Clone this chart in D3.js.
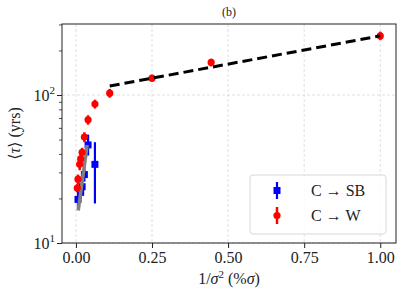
<!DOCTYPE html>
<html><head><meta charset="utf-8">
<script src="https://cdn.jsdelivr.net/npm/d3@7"></script>
<style>
body{margin:0;background:#fff;}
</style></head>
<body><svg id="c" width="407" height="302"></svg>
<script>
// C -> W (red)
const wX  = [1.0, 0.4444, 0.25, 0.1111, 0.0625, 0.04, 0.0278, 0.0204, 0.0156, 0.0123, 0.0069, 0.0044];
const wY  = [251, 166, 130, 103, 87, 68, 52, 41, 37, 34, 27, 23.5];
const wLo = [235, 156, 123, 96, 81, 63, 48, 38, 34, 31, 25, 22];
const wHi = [268, 176, 137, 110, 93, 73, 56, 44, 40, 37, 29, 25];
// C -> SB (blue)
const sX  = [0.0625, 0.04, 0.0278, 0.0204, 0.0156, 0.0069];
const sY  = [34, 46, 29, 24, 22, 19.7];
const sLo = [18.5, 39, 26, 22, 20, 17];
const sHi = [48, 54, 32, 26.5, 24, 22];
// fit lines
const greyFitX = [0.0076, 0.037];
const greyFitY = [16.6, 46];
const dashFitX = [0.1111, 1.0];
const dashFitY = [115, 251];
const xTicks = [0, 0.25, 0.5, 0.75, 1.0];
const xTickLabels = ["0.00", "0.25", "0.50", "0.75", "1.00"];
const yMajor = [10, 100];
const yMinor = [20,30,40,50,60,70,80,90,200,300];

const FONT = "'Times New Roman', 'Liberation Serif', 'Noto Serif', 'DejaVu Serif', Times, serif";
const svg = d3.select("#c").attr("font-family", FONT);
const L = 62, R = 396, T = 24, B = 243;
const x = d3.scaleLinear().domain([-0.0457, 1.0517]).range([L, R]);
const y = d3.scaleLog().domain([10, 302]).range([B, T]);

// grid
const g = svg.append("g");
g.selectAll("line.gx").data(xTicks).join("line")
  .attr("x1", d => x(d)).attr("x2", d => x(d)).attr("y1", T).attr("y2", B)
  .attr("stroke", "#d8d8d8").attr("stroke-width", 0.8).attr("stroke-dasharray", "3,2");
g.selectAll("line.gy").data(yMajor).join("line")
  .attr("x1", L).attr("x2", R).attr("y1", d => y(d)).attr("y2", d => y(d))
  .attr("stroke", "#d8d8d8").attr("stroke-width", 0.8).attr("stroke-dasharray", "3,2");

// axes
const xAxis = d3.axisBottom(x).tickValues(xTicks).tickFormat((d, i) => xTickLabels[i]).tickSize(5).tickPadding(4);
const xa = svg.append("g").attr("transform", `translate(0,${B})`).call(xAxis).attr("font-family", FONT);
xa.select(".domain").remove();
xa.selectAll("text").attr("font-size", 16).attr("font-family", FONT).attr("fill", "#222");
xa.selectAll("line").attr("stroke", "#222").attr("stroke-width", 1);

const yAxis = d3.axisLeft(y).tickValues(yMajor).tickFormat("").tickSize(5);
const ya = svg.append("g").attr("transform", `translate(${L},0)`).call(yAxis);
ya.select(".domain").remove();
ya.selectAll("line").attr("stroke", "#222").attr("stroke-width", 1);
const yAxisMinor = d3.axisLeft(y).tickValues(yMinor).tickFormat("").tickSize(3);
const ym = svg.append("g").attr("transform", `translate(${L},0)`).call(yAxisMinor);
ym.select(".domain").remove();
ym.selectAll("line").attr("stroke", "#222").attr("stroke-width", 0.8);

yMajor.forEach(v => {
  const t = svg.append("text").attr("x", 55).attr("y", y(v) + 6).attr("text-anchor", "end").attr("font-size", 16).attr("font-family", FONT).attr("fill", "#222");
  t.append("tspan").text("10");
  t.append("tspan").attr("dy", -7).attr("font-size", 11).text(Math.round(Math.log10(v)));
});

// frame
svg.append("rect").attr("x", L).attr("y", T).attr("width", R - L).attr("height", B - T)
  .attr("fill", "none").attr("stroke", "#222").attr("stroke-width", 1);

const line = d3.line().x(d => x(d[0])).y(d => y(d[1]));

// blue series
const blue = "#0000ff", red = "#ff0000";
const sData = sX.map((v, i) => ({x: v, y: sY[i], lo: sLo[i], hi: sHi[i]}));
svg.selectAll("line.se").data(sData).join("line")
  .attr("x1", d => x(d.x)).attr("x2", d => x(d.x)).attr("y1", d => y(d.lo)).attr("y2", d => y(d.hi))
  .attr("stroke", blue).attr("stroke-width", 2.2);
svg.selectAll("rect.sm").data(sData).join("rect")
  .attr("x", d => x(d.x) - 3.5).attr("y", d => y(d.y) - 3.5).attr("width", 7).attr("height", 7)
  .attr("fill", blue);

// grey fit
svg.append("path").attr("d", line(greyFitX.map((v, i) => [v, greyFitY[i]])))
  .attr("stroke", "#808080").attr("stroke-width", 3.5).attr("fill", "none");

// red series
const wData = wX.map((v, i) => ({x: v, y: wY[i], lo: wLo[i], hi: wHi[i]}));
svg.selectAll("line.we").data(wData).join("line")
  .attr("x1", d => x(d.x)).attr("x2", d => x(d.x)).attr("y1", d => y(d.lo)).attr("y2", d => y(d.hi))
  .attr("stroke", red).attr("stroke-width", 2.5);
svg.selectAll("circle.wm").data(wData).join("circle")
  .attr("cx", d => x(d.x)).attr("cy", d => y(d.y)).attr("r", 3.6).attr("fill", red);

svg.append("path").attr("d", line(dashFitX.map((v, i) => [v, dashFitY[i]])))
  .attr("stroke", "#000").attr("stroke-width", 3).attr("fill", "none").attr("stroke-dasharray", "10,5");

// title & labels
svg.append("text").attr("x", (L + R) / 2).attr("y", 16).attr("text-anchor", "middle").attr("font-size", 12).attr("fill", "#222").text("(b)");
const xl = svg.append("text").attr("x", (L + R) / 2).attr("y", 284).attr("text-anchor", "middle").attr("font-size", 16).attr("fill", "#222");
xl.append("tspan").text("1/");
xl.append("tspan").attr("font-style", "italic").text("σ");
xl.append("tspan").attr("dy", -6).attr("font-size", 11).text("2");
xl.append("tspan").attr("dy", 6).text(" (%");
xl.append("tspan").attr("font-style", "italic").text("σ");
xl.append("tspan").text(")");
const yl = svg.append("text").attr("transform", `translate(20,${(T + B) / 2}) rotate(-90)`).attr("text-anchor", "middle").attr("font-size", 16).attr("fill", "#222");
yl.append("tspan").text("⟨");
yl.append("tspan").attr("font-style", "italic").text("τ");
yl.append("tspan").text("⟩ (yrs)");

// legend
const lg = svg.append("g");
lg.append("rect").attr("x", 250).attr("y", 175).attr("width", 136).attr("height", 59).attr("rx", 3)
  .attr("fill", "#fff").attr("fill-opacity", 0.8).attr("stroke", "#d8d8d8").attr("stroke-width", 1);
const lx = 277;
lg.append("line").attr("x1", lx).attr("x2", lx).attr("y1", 182).attr("y2", 199).attr("stroke", blue).attr("stroke-width", 2.2);
lg.append("rect").attr("x", lx - 3.5).attr("y", 187).attr("width", 7).attr("height", 7).attr("fill", blue);
lg.append("line").attr("x1", lx).attr("x2", lx).attr("y1", 207).attr("y2", 224).attr("stroke", red).attr("stroke-width", 2.5);
lg.append("circle").attr("cx", lx).attr("cy", 215.5).attr("r", 3.6).attr("fill", red);
lg.append("text").attr("x", 311).attr("y", 196).attr("font-size", 16).attr("fill", "#222").text("C → SB");
lg.append("text").attr("x", 311).attr("y", 221).attr("font-size", 16).attr("fill", "#222").text("C → W");
</script></body></html>
